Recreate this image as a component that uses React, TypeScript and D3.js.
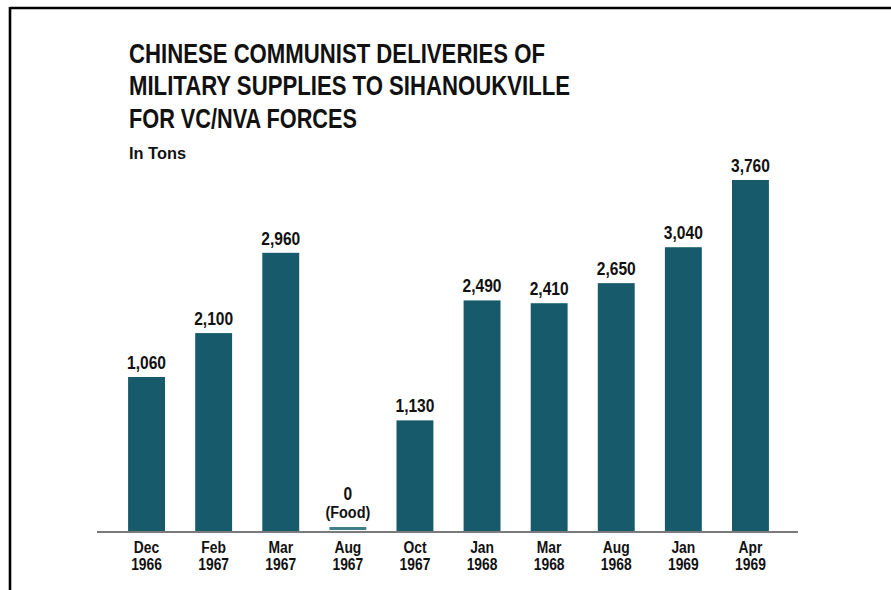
import React from 'react';
import * as d3 from 'd3';

const months = ['Dec', 'Feb', 'Mar', 'Aug', 'Oct', 'Jan', 'Mar', 'Aug', 'Jan', 'Apr'];
const years = ['1966', '1967', '1967', '1967', '1967', '1968', '1968', '1968', '1969', '1969'];
// printed value labels (tons)
const tons = [1060, 2100, 2960, 0, 1130, 2490, 2410, 2650, 3040, 3760];
// bar heights as drawn in the original artwork (Dec 1966 and Oct 1967 are drawn taller than their labels)
const drawnTons = [1650, 2120, 2980, 0, 1185, 2470, 2440, 2655, 3040, 3760];
const notes = ['', '', '', '(Food)', '', '', '', '', '', ''];
const titleLines = [
  'CHINESE COMMUNIST DELIVERIES OF',
  'MILITARY SUPPLIES TO SIHANOUKVILLE',
  'FOR VC/NVA FORCES',
];
const titleWidths = [416, 441, 228];
const subtitle = 'In Tons';

const W = 891;
const H = 590;
const BAR = '#175a6b';
const INK = '#111';
const FONT = "'Liberation Sans', Arial, Helvetica, sans-serif";

// narrow bold text, squeezed horizontally to look like Helvetica Condensed
const NText: React.FC<{ x: number; y: number; size: number; sx?: number; children: React.ReactNode }> = ({
  x, y, size, sx = 0.85, children,
}) => (
  <text
    transform={`translate(${x},${y}) scale(${sx},1)`}
    fontSize={size}
    textAnchor="middle"
  >
    {children}
  </text>
);

const App: React.FC = () => {
  const keys = months.map((m, i) => `${m} ${years[i]}`);
  const baseY = 531;

  const x = d3.scaleBand<string>()
    .domain(keys)
    .range([113, 784])
    .paddingInner(0.45)
    .paddingOuter(0.225);

  const y = d3.scaleLinear()
    .domain([0, 3760])
    .range([baseY, 180]);

  const fmt = d3.format(',');
  const cx = (k: string) => (x(k) ?? 0) + x.bandwidth() / 2;

  return (
    <svg
      width={W}
      height={H}
      style={{ position: 'absolute', left: 0, top: 0, background: '#fff' }}
      fontFamily={FONT}
    >
      {/* frame */}
      <line x1={10} y1={8} x2={W} y2={8} stroke="#000" strokeWidth={2.6} />
      <line x1={10} y1={7} x2={10} y2={H} stroke="#000" strokeWidth={2.6} />

      {/* title */}
      <g fill={INK} fontWeight="bold">
        {titleLines.map((t, i) => (
          <text
            key={t}
            x={129}
            y={62.5 + i * 32.5}
            fontSize={28}
            textLength={titleWidths[i]}
            lengthAdjust="spacingAndGlyphs"
          >
            {t}
          </text>
        ))}
        <text x={129} y={159} fontSize={16.5} textLength={57} lengthAdjust="spacingAndGlyphs">{subtitle}</text>
      </g>

      {/* bars */}
      {keys.map((k, i) => {
        const bx = x(k) ?? 0;
        const top = drawnTons[i] > 0 ? y(drawnTons[i]) : baseY - 4;
        const h = drawnTons[i] > 0 ? baseY - top : 3;
        return (
          <rect key={k} x={bx} y={top} width={x.bandwidth()} height={h} fill={drawnTons[i] > 0 ? BAR : '#3f7f8c'} />
        );
      })}

      {/* baseline */}
      <line x1={97} x2={798} y1={baseY + 1} y2={baseY + 1} stroke="#7a7a7a" strokeWidth={2} />

      {/* value labels */}
      <g fill={INK} fontWeight="bold">
        {keys.map((k, i) => {
          const top = drawnTons[i] > 0 ? y(drawnTons[i]) : 486;
          return (
            <g key={k}>
              <NText x={cx(k)} y={notes[i] ? 500 : top - 8} size={19} sx={0.82}>{fmt(tons[i])}</NText>
              {notes[i] && <NText x={cx(k)} y={518} size={17} sx={0.85}>{notes[i]}</NText>}
            </g>
          );
        })}
      </g>

      {/* category labels */}
      <g fill={INK} fontWeight="bold">
        {keys.map((k, i) => (
          <g key={k}>
            <NText x={cx(k)} y={553} size={16.5} sx={0.84}>{months[i]}</NText>
            <NText x={cx(k)} y={570} size={16.5} sx={0.84}>{years[i]}</NText>
          </g>
        ))}
      </g>
    </svg>
  );
};

export default App;
